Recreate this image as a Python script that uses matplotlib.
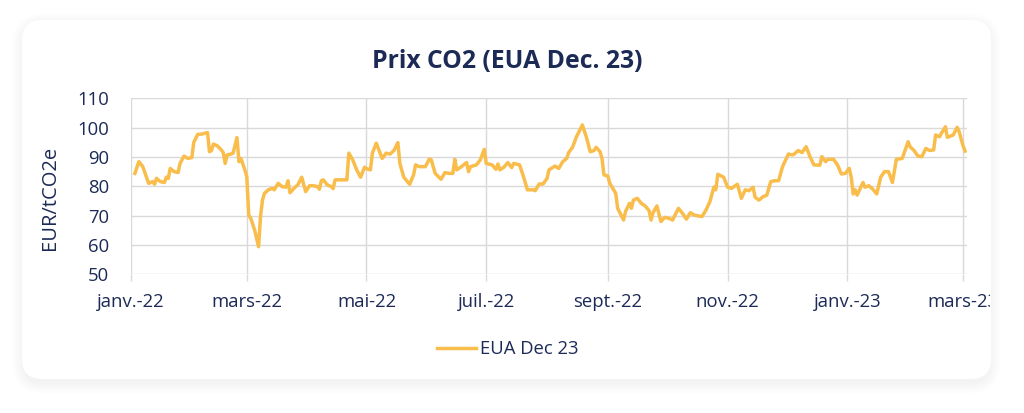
import matplotlib
matplotlib.use("Agg")
import matplotlib.pyplot as plt
from matplotlib.patches import FancyBboxPatch
from matplotlib.transforms import IdentityTransform, Bbox, TransformedBbox
import pandas as pd

title = "Prix CO2 (EUA Dec. 23)"
series_name = "EUA Dec 23"
y_label = "EUR/tCO2e"

dates = [
    "2022-01-03", "2022-01-05", "2022-01-07", "2022-01-10", "2022-01-12", "2022-01-13",
    "2022-01-14", "2022-01-16", "2022-01-18", "2022-01-19", "2022-01-20", "2022-01-21",
    "2022-01-23", "2022-01-25", "2022-01-26", "2022-01-28", "2022-01-30", "2022-02-01",
    "2022-02-02", "2022-02-04", "2022-02-06", "2022-02-09", "2022-02-10", "2022-02-11",
    "2022-02-12", "2022-02-14", "2022-02-16", "2022-02-17", "2022-02-18", "2022-02-19",
    "2022-02-21", "2022-02-22", "2022-02-24", "2022-02-25", "2022-02-26", "2022-02-28",
    "2022-03-01", "2022-03-02", "2022-03-03", "2022-03-05", "2022-03-07", "2022-03-08",
    "2022-03-09", "2022-03-10", "2022-03-12", "2022-03-14", "2022-03-15", "2022-03-17",
    "2022-03-19", "2022-03-21", "2022-03-22", "2022-03-23", "2022-03-25", "2022-03-27",
    "2022-03-29", "2022-03-31", "2022-04-02", "2022-04-04", "2022-04-06", "2022-04-07",
    "2022-04-08", "2022-04-09", "2022-04-11", "2022-04-13", "2022-04-14", "2022-04-15",
    "2022-04-17", "2022-04-21", "2022-04-22", "2022-04-24", "2022-04-26", "2022-04-28",
    "2022-04-30", "2022-05-01", "2022-05-03", "2022-05-04", "2022-05-06", "2022-05-09",
    "2022-05-11", "2022-05-13", "2022-05-15", "2022-05-17", "2022-05-18", "2022-05-20",
    "2022-05-23", "2022-05-25", "2022-05-26", "2022-05-28", "2022-05-31", "2022-06-02",
    "2022-06-03", "2022-06-05", "2022-06-08", "2022-06-10", "2022-06-12", "2022-06-14",
    "2022-06-15", "2022-06-16", "2022-06-18", "2022-06-21", "2022-06-22", "2022-06-23",
    "2022-06-26", "2022-06-28", "2022-06-30", "2022-07-01", "2022-07-04", "2022-07-06",
    "2022-07-07", "2022-07-08", "2022-07-10", "2022-07-12", "2022-07-14", "2022-07-15",
    "2022-07-18", "2022-07-20", "2022-07-22", "2022-07-25", "2022-07-26", "2022-07-28",
    "2022-07-30", "2022-08-01", "2022-08-02", "2022-08-05", "2022-08-07", "2022-08-09",
    "2022-08-11", "2022-08-12", "2022-08-14", "2022-08-16", "2022-08-19", "2022-08-21",
    "2022-08-23", "2022-08-25", "2022-08-26", "2022-08-28", "2022-08-29", "2022-08-30",
    "2022-09-01", "2022-09-02", "2022-09-05", "2022-09-06", "2022-09-09", "2022-09-10",
    "2022-09-12", "2022-09-13", "2022-09-14", "2022-09-16", "2022-09-18", "2022-09-20",
    "2022-09-22", "2022-09-23", "2022-09-24", "2022-09-26", "2022-09-28", "2022-09-30",
    "2022-10-02", "2022-10-04", "2022-10-05", "2022-10-07", "2022-10-09", "2022-10-11",
    "2022-10-13", "2022-10-15", "2022-10-17", "2022-10-19", "2022-10-21", "2022-10-23",
    "2022-10-25", "2022-10-26", "2022-10-27", "2022-10-30", "2022-11-01", "2022-11-03",
    "2022-11-06", "2022-11-08", "2022-11-10", "2022-11-12", "2022-11-14", "2022-11-15",
    "2022-11-17", "2022-11-19", "2022-11-21", "2022-11-23", "2022-11-25", "2022-11-27",
    "2022-11-29", "2022-12-02", "2022-12-04", "2022-12-05", "2022-12-07", "2022-12-09",
    "2022-12-11", "2022-12-13", "2022-12-15", "2022-12-18", "2022-12-19", "2022-12-21",
    "2022-12-22", "2022-12-25", "2022-12-27", "2022-12-29", "2022-12-31", "2023-01-02",
    "2023-01-03", "2023-01-04", "2023-01-05", "2023-01-06", "2023-01-09", "2023-01-10",
    "2023-01-12", "2023-01-14", "2023-01-16", "2023-01-18", "2023-01-20", "2023-01-22",
    "2023-01-24", "2023-01-26", "2023-01-29", "2023-02-01", "2023-02-02", "2023-02-04",
    "2023-02-06", "2023-02-08", "2023-02-10", "2023-02-12", "2023-02-14", "2023-02-15",
    "2023-02-17", "2023-02-18", "2023-02-20", "2023-02-21", "2023-02-24", "2023-02-26",
    "2023-02-27", "2023-03-01", "2023-03-02",
]

prices = [
    84.4, 88.4, 86.7, 81.0, 81.6, 80.7,
    82.7, 81.6, 81.3, 83.1, 82.7, 86.1,
    85.0, 84.7, 87.8, 90.3, 89.5, 89.8,
    95.0, 97.7, 97.8, 98.3, 91.8, 92.2,
    94.4, 93.8, 92.4, 91.5, 87.8, 90.7,
    91.0, 91.3, 96.6, 88.4, 89.5, 85.6,
    83.3, 70.2, 69.1, 65.1, 59.4, 69.7,
    75.3, 77.6, 78.8, 79.3, 78.8, 81.0,
    79.9, 79.7, 81.9, 77.8, 79.3, 80.5,
    83.1, 78.2, 80.2, 80.2, 79.9, 79.0,
    81.9, 82.2, 80.5, 79.9, 79.2, 82.2,
    82.2, 82.2, 91.3, 89.0, 85.6, 83.1,
    86.5, 86.0, 85.6, 91.3, 94.7, 89.5,
    91.3, 91.0, 92.2, 94.9, 87.8, 83.1,
    80.7, 83.9, 87.3, 86.7, 86.7, 89.3,
    89.0, 84.4, 82.4, 84.7, 84.4, 84.4,
    89.2, 85.6, 86.5, 88.1, 85.0, 86.7,
    87.3, 89.0, 92.6, 87.8, 87.3, 85.8,
    87.6, 85.6, 86.5, 88.1, 86.4, 87.8,
    87.3, 83.3, 78.8, 78.8, 78.5, 80.8,
    80.8, 82.7, 85.6, 86.9, 86.1, 88.4,
    89.5, 91.5, 93.3, 96.9, 100.9, 96.9,
    91.8, 92.2, 93.3, 91.8, 89.5, 83.9,
    83.5, 81.0, 77.6, 72.5, 68.5, 71.4,
    74.2, 72.5, 75.3, 75.9, 74.2, 73.3,
    71.7, 68.5, 71.0, 73.3, 68.0, 69.4,
    69.1, 68.5, 69.9, 72.5, 70.8, 68.8,
    71.0, 70.2, 69.9, 69.7, 71.9, 74.8,
    79.7, 78.8, 84.1, 83.1, 79.7, 79.3,
    80.7, 75.9, 78.8, 78.5, 79.7, 76.3,
    75.3, 76.4, 77.0, 81.6, 81.9, 81.9,
    86.7, 91.0, 90.7, 91.0, 92.2, 91.5,
    93.5, 90.1, 87.3, 87.2, 90.1, 88.4,
    89.2, 89.2, 87.3, 84.2, 84.4, 86.1,
    83.1, 77.4, 78.8, 77.0, 81.3, 79.7,
    80.2, 79.0, 77.4, 83.1, 85.0, 85.0,
    81.3, 89.2, 89.5, 95.2, 93.5, 92.2,
    90.3, 90.1, 92.9, 92.2, 92.4, 97.5,
    96.9, 98.1, 100.3, 96.7, 97.5, 100.1,
    98.6, 93.8, 92.0,
]

tick_dates = ["2022-01-01", "2022-03-01", "2022-05-01", "2022-07-01", "2022-09-01",
              "2022-11-01", "2023-01-01", "2023-03-01"]
tick_labels = ["janv.-22", "mars-22", "mai-22", "juil.-22", "sept.-22",
               "nov.-22", "janv.-23", "mars-23"]
y_ticks = [50, 60, 70, 80, 90, 100, 110]

NAVY = "#1c2a56"
LINE = "#f9bd4b"
GRID = "#d9d9d9"
FONT = ["Open Sans", "DejaVu Sans"]

plt.rcParams["font.family"] = FONT

W, H = 1024, 413
fig = plt.figure(figsize=(W / 100, H / 100), dpi=100)
fig.patch.set_facecolor("white")

# card shadow + card (pixel coordinates)
cx0, cx1, cy0, cy1 = 22, 991, 413 - 379, 413 - 20
for i in range(12, 0, -1):
    sh = FancyBboxPatch((cx0 - i + 2, cy0 - i - 3), (cx1 - cx0) + 2 * i - 4, (cy1 - cy0) + 2 * i - 2,
                        boxstyle="round,pad=0,rounding_size=%d" % (20 + i),
                        transform=IdentityTransform(), facecolor="#000000",
                        alpha=0.0055, edgecolor="none", zorder=0)
    fig.patches.append(sh)
card = FancyBboxPatch((cx0, cy0), cx1 - cx0, cy1 - cy0,
                      boxstyle="round,pad=0,rounding_size=20",
                      transform=IdentityTransform(), facecolor="white",
                      edgecolor="none", zorder=1)
fig.patches.append(card)

ax = fig.add_axes([131 / W, 1 - 274.3 / H, (967 - 131) / W, (274.3 - 98.3) / H])
ax.set_facecolor("none")
ax.set_zorder(2)

x = pd.to_datetime(dates)
ax.plot(x, prices, color=LINE, lw=2.5, solid_joinstyle="round", label=series_name, zorder=3)

ax.set_ylim(50, 110)
ax.set_yticks(y_ticks)
ax.set_xlim(pd.Timestamp("2022-01-01"), pd.Timestamp("2023-03-03"))
ax.set_xticks(pd.to_datetime(tick_dates))
ax.set_xticklabels(tick_labels)

ax.grid(True, color=GRID, lw=1.0)
for s in ax.spines.values():
    s.set_visible(False)
ax.tick_params(axis="y", length=0, pad=15.5, labelsize=13.3, labelcolor=NAVY)
ax.tick_params(axis="x", length=5, width=1.0, color=GRID, pad=8.5, labelsize=13.3, labelcolor=NAVY)

clip_box = TransformedBbox(Bbox([[cx0, 0], [cx1 - 1, H]]), IdentityTransform())
for lbl in ax.get_xticklabels():
    lbl.set_clip_on(True)
    lbl.set_clip_box(clip_box)

ax.set_ylabel(y_label, color=NAVY, fontsize=14.5)
ax.yaxis.set_label_coords(-0.085, 0.434)

fig.text(507 / W, 1 - 62 / H, title, ha="center", va="center", color=NAVY,
         fontsize=17.8, fontweight="bold", zorder=5)

ax.legend(loc="center", bbox_to_anchor=(508 / W, 1 - 349 / H), bbox_transform=fig.transFigure,
          frameon=False, fontsize=13.3, labelcolor=NAVY, handlelength=2.1, handletextpad=0.25)

fig.savefig("out.png", dpi=100, facecolor="white")
